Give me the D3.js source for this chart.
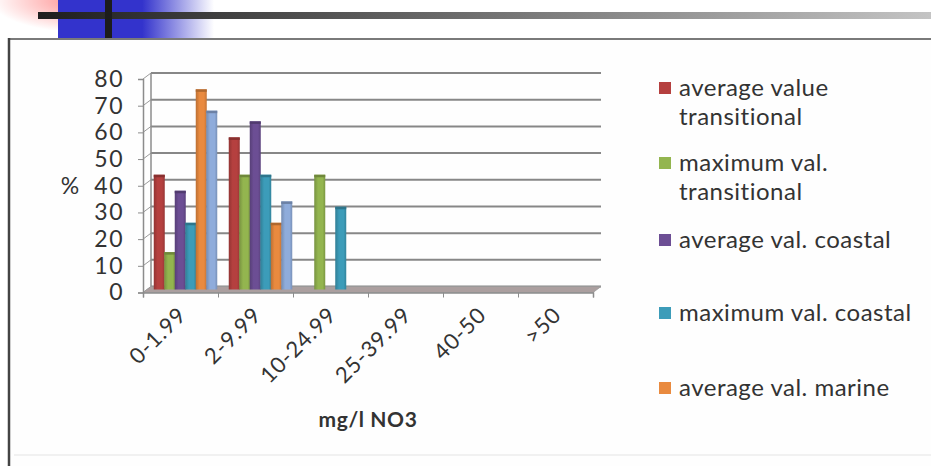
<!DOCTYPE html>
<html><head><meta charset="utf-8">
<script src="https://cdn.jsdelivr.net/npm/d3@7/dist/d3.min.js"></script>
<style>html,body{margin:0;padding:0;background:#fff;overflow:hidden}svg{display:block}</style>
</head><body>
<svg id="c" width="931" height="466"></svg>
<script>
const categories = ["0-1.99","2-9.99","10-24.99","25-39.99","40-50",">50"];
const seriesNames = ["average value transitional","maximum val. transitional","average val. coastal","maximum val. coastal","average val. marine","maximum val. marine"];
const avgTransitional = [43, 57, 0, 0, 0, 0];
const maxTransitional = [14, 43, 43, 0, 0, 0];
const avgCoastal      = [37, 63, 0, 0, 0, 0];
const maxCoastal      = [25, 43, 31, 0, 0, 0];
const avgMarine       = [75, 25, 0, 0, 0, 0];
const maxMarine       = [67, 33, 0, 0, 0, 0];
const yTicks = [0,10,20,30,40,50,60,70,80];
const legendLines = [["average value","transitional"],["maximum val.","transitional"],["average val. coastal"],["maximum val. coastal"],["average val. marine"]];
const colors = ["#B5403F","#93B54F","#6C4E94","#3C9CB9","#E98A3F","#8FACDB"];

const series = [avgTransitional,maxTransitional,avgCoastal,maxCoastal,avgMarine,maxMarine];
const FONT = "Lato, 'Open Sans', sans-serif";
const svg = d3.select("#c");
const defs = svg.append("defs");

// --- slide decoration ---
const pg = defs.append("radialGradient").attr("id","pink").attr("cx","100%").attr("cy","0%").attr("r","110%");
pg.append("stop").attr("offset","0%").attr("stop-color","#ff8585");
pg.append("stop").attr("offset","100%").attr("stop-color","#ffffff");
const bg = defs.append("linearGradient").attr("id","blue").attr("x1","0").attr("x2","1");
bg.append("stop").attr("offset","0%").attr("stop-color","#3333cc");
bg.append("stop").attr("offset","54%").attr("stop-color","#3333cc");
bg.append("stop").attr("offset","100%").attr("stop-color","#ffffff");
const hg = defs.append("linearGradient").attr("id","hbar").attr("x1","0").attr("x2","1");
hg.append("stop").attr("offset","0%").attr("stop-color","#1e1e1e");
hg.append("stop").attr("offset","100%").attr("stop-color","#c4c4c4");
svg.append("rect").attr("x",0).attr("y",0).attr("width",89).attr("height",30).attr("fill","url(#pink)");
svg.append("rect").attr("x",58).attr("y",0).attr("width",156).attr("height",38).attr("fill","url(#blue)");
svg.append("rect").attr("x",38).attr("y",12).attr("width",893).attr("height",7).attr("fill","url(#hbar)");
svg.append("rect").attr("x",105).attr("y",0).attr("width",7).attr("height",38).attr("fill","#1c1c1c");

// --- chart frame ---
svg.append("rect").attr("x",10).attr("y",39).attr("width",921).attr("height",427).attr("fill","#fefefe");
svg.append("line").attr("x1",9).attr("x2",931).attr("y1",39).attr("y2",39).attr("stroke","#7a7a7a").attr("stroke-width",2);
svg.append("line").attr("x1",9).attr("x2",9).attr("y1",38).attr("y2",466).attr("stroke","#444").attr("stroke-width",2.5);
svg.append("line").attr("x1",14).attr("x2",931).attr("y1",455).attr("y2",455).attr("stroke","#ececec").attr("stroke-width",1.5);

// --- scales ---
const x = d3.scaleBand().domain(categories).range([143,593]).padding(0);
const y = d3.scaleLinear().domain([0,80]).range([292.5,79]);
const dx = 8, dy = -6;
const xs = d3.scaleBand().domain(d3.range(6)).range([11,74]).padding(0);

// back wall gridlines
const g = svg.append("g");
g.selectAll("line.grid").data(yTicks).enter().append("line")
  .attr("x1",x.range()[0]+dx).attr("x2",x.range()[1]+dx)
  .attr("y1",d=>y(d)+dy).attr("y2",d=>y(d)+dy)
  .attr("stroke","#878787").attr("stroke-width",2);
g.selectAll("line.side").data(yTicks).enter().append("line")
  .attr("x1",x.range()[0]).attr("x2",x.range()[0]+dx)
  .attr("y1",d=>y(d)).attr("y2",d=>y(d)+dy)
  .attr("stroke","#9a9a9a").attr("stroke-width",1);
g.append("line").attr("x1",x.range()[0]+dx).attr("x2",x.range()[0]+dx).attr("y1",y(80)+dy).attr("y2",y(0)+dy).attr("stroke","#8c8c8c").attr("stroke-width",1.5);

// floor
const x0 = x.range()[0], x1 = x.range()[1];
g.append("path").attr("d",`M${x0},${y(0)}L${x1},${y(0)}L${x1+dx},${y(0)+dy}L${x0+dx},${y(0)+dy}Z`)
  .attr("fill","#ab9f9f").attr("stroke","#999").attr("stroke-width",0.8);

// y axis (front)
const yAxis = d3.axisLeft(y).tickValues(yTicks).tickSize(5).tickPadding(14);
const ya = svg.append("g").attr("transform",`translate(${x0},0)`).call(yAxis);
ya.select(".domain").attr("stroke","#8c8c8c").attr("stroke-width",1.5);
ya.selectAll(".tick line").attr("stroke","#8c8c8c");
ya.selectAll("text").attr("font-family",FONT).attr("font-size",23).attr("letter-spacing",1.5).attr("fill","#333");

// x axis (front)
const xAxis = d3.axisBottom(d3.scalePoint().domain(d3.range(7)).range([x0,x1])).tickSize(5).tickFormat("");
const xa = svg.append("g").attr("transform",`translate(0,${y(0)})`).call(xAxis);
xa.select(".domain").attr("stroke","#8c8c8c").attr("stroke-width",1.5);
xa.selectAll(".tick line").attr("stroke","#8c8c8c");
svg.append("g").selectAll("text").data(categories).enter().append("text")
  .attr("transform",d=>`translate(${x(d)+x.bandwidth()/2+7},${y(0)+24}) rotate(-45)`)
  .attr("text-anchor","end").attr("font-family",FONT).attr("font-size",22).attr("letter-spacing",0.8).attr("fill","#333")
  .text(d=>d);

// bars
series.forEach((s,i)=>{
  const gr = defs.append("linearGradient").attr("id","bg"+i).attr("x1","0").attr("x2","1");
  const c = d3.color(colors[i]);
  gr.append("stop").attr("offset","0%").attr("stop-color",c.darker(0.6));
  gr.append("stop").attr("offset","35%").attr("stop-color",c);
  gr.append("stop").attr("offset","75%").attr("stop-color",c);
  gr.append("stop").attr("offset","100%").attr("stop-color",c.darker(0.5));
});
const bw = 11;
const bars = svg.append("g");
categories.forEach((cat,ci)=>{
  series.forEach((s,si)=>{
    const v = s[ci];
    if (v <= 0) return;
    const bx = x(cat)+xs(si)+ (xs.bandwidth()-bw)/2;
    const top = y(v)-3, base = y(0)-3;
    bars.append("rect").attr("x",bx).attr("y",top).attr("width",bw).attr("height",base-top)
      .attr("fill",`url(#bg${si})`);
    bars.append("rect").attr("x",bx).attr("y",top).attr("width",bw).attr("height",2.5)
      .attr("fill",d3.color(colors[si]).darker(0.8));
  });
});

// axis titles
svg.append("text").attr("x",70).attr("y",y(40)+8).attr("text-anchor","middle")
  .attr("font-family",FONT).attr("font-size",23).attr("fill","#333").text("%");
svg.append("text").attr("x",368).attr("y",427).attr("text-anchor","middle")
  .attr("font-family",FONT).attr("font-size",21).attr("letter-spacing",0.6).attr("font-weight",700).attr("fill","#333").text("mg/l NO3");

// legend
const legY = [88,163,240,313,388];
const lg = svg.append("g");
legendLines.forEach((lines,i)=>{
  lg.append("rect").attr("x",659).attr("y",legY[i]-6).attr("width",12).attr("height",12).attr("fill",colors[i]);
  lines.forEach((t,j)=>{
    lg.append("text").attr("x",679).attr("y",legY[i]+8+j*29)
      .attr("font-family",FONT).attr("font-size",24).attr("letter-spacing",0.5).attr("fill","#333").text(t);
  });
});
</script>
</body></html>
